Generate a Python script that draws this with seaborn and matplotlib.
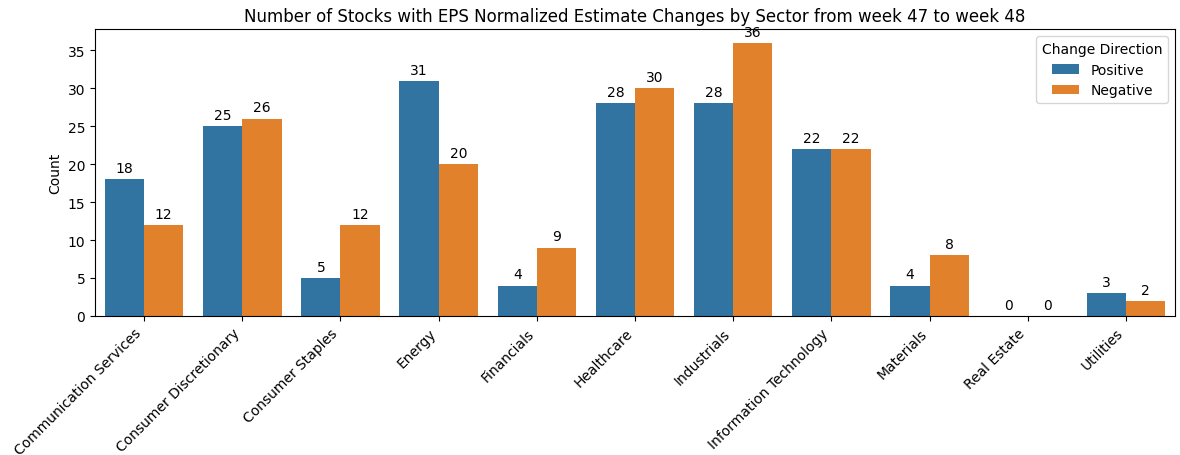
import pandas as pd
import matplotlib
matplotlib.use('Agg')
import matplotlib.pyplot as plt
import seaborn as sns

# Sector data for week 47 -> week 48
sectors = ['Communication Services', 'Consumer Discretionary', 'Consumer Staples', 'Energy',
           'Financials', 'Healthcare', 'Industrials', 'Information Technology',
           'Materials', 'Real Estate', 'Utilities']
positive = [18, 25, 5, 31, 4, 28, 28, 22, 4, 0, 3]
negative = [12, 26, 12, 20, 9, 30, 36, 22, 8, 0, 2]

data = pd.DataFrame({
    'Sector': sectors * 2,
    'Count': positive + negative,
    'Change Direction': ['Positive'] * len(sectors) + ['Negative'] * len(sectors),
})

fig, ax = plt.subplots(figsize=(11.8, 4.56), dpi=100)
sns.barplot(data=data, x='Sector', y='Count', hue='Change Direction', ax=ax)

for c in ax.containers:
    ax.bar_label(c, fmt='%d', padding=3)

ax.set_title('Number of Stocks with EPS Normalized Estimate Changes by Sector from week 47 to week 48')
ax.set_xlabel('')
ax.set_ylabel('Count')
plt.setp(ax.get_xticklabels(), rotation=45, ha='right')
ax.legend(title='Change Direction', loc='upper right')

plt.subplots_adjust(left=0.0805, right=0.9958, top=0.934, bottom=0.305)
plt.savefig('out.png')
